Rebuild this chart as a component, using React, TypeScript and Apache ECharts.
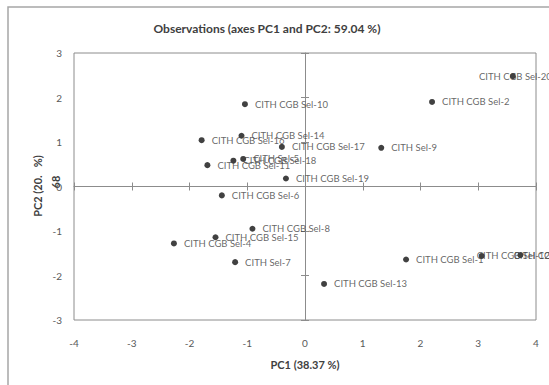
import React, { useEffect, useRef } from "react";
import * as echarts from "echarts";

const names = [
  "CITH CGB Sel-1", "CITH CGB Sel-2", "CITH CGB Sel-3", "CITH CGB Sel-4", "CITH Sel-5",
  "CITH CGB Sel-6", "CITH Sel-7", "CITH CGB Sel-8", "CITH Sel-9", "CITH CGB Sel-10",
  "CITH CGB Sel-11", "CITH CGB Sel-12", "CITH CGB Sel-13", "CITH CGB Sel-14", "CITH CGB Sel-15",
  "CITH CGB Sel-16", "CITH CGB Sel-17", "CITH CGB Sel-18", "CITH CGB Sel-19", "CITH CGB Sel-20",
];
const pc1 = [1.75, 2.2, 3.73, -2.27, -1.07, -1.44, -1.21, -0.91, 1.32, -1.04, -1.69, 3.06, 0.33, -1.1, -1.55, -1.79, -0.4, -1.24, -0.33, 3.6];
const pc2 = [-1.64, 1.9, -1.54, -1.28, 0.62, -0.2, -1.7, -0.95, 0.87, 1.85, 0.48, -1.56, -2.19, 1.14, -1.14, 1.04, 0.89, 0.58, 0.18, 2.48];
const xTicks = { min: -4, max: 4, step: 1 };
const yTicks = { min: -3, max: 3, step: 1 };

const titleText = "Observations (axes PC1 and PC2: 59.04 %)";
const xName = "PC1 (38.37 %)";
const yNameMain = "PC2 (20.   %)";
const yNameFrag = "68";

// label start (px, relative to symbol's left edge) for labels moved from the default spot
const labelShift: Record<string, number> = {
  "CITH CGB Sel-20": -31,
  "CITH CGB Sel-12": -2,
  "CITH CGB Sel-3": -4,
};

const FONT = "Lato, 'Open Sans', sans-serif";

export default function App() {
  const ref = useRef<HTMLDivElement>(null);
  useEffect(() => {
    if (!ref.current) return;
    const chart = echarts.init(ref.current, undefined, { renderer: "svg" });
    const data = names.map((n, i) => {
      const item: any = { name: n, value: [pc1[i], pc2[i]] };
      if (labelShift[n] !== undefined) {
        item.label = { position: [labelShift[n], "50%"], align: "left", verticalAlign: "middle" };
      }
      return item;
    });
    const axisCol = "#8c8c8c";
    const baseX = { type: "value", min: xTicks.min, max: xTicks.max, interval: xTicks.step, splitLine: { show: false } };
    const baseY = { type: "value", min: yTicks.min, max: yTicks.max, interval: yTicks.step, splitLine: { show: false } };
    chart.setOption({
      animation: false,
      textStyle: { fontFamily: FONT },
      graphic: [
        { type: "rect", shape: { x: 8, y: 7, width: 700, height: 500 }, style: { fill: "none", stroke: "#a6a6a6", lineWidth: 1.5 }, silent: true },
        { type: "text", x: 267, y: 28, style: { text: titleText, fontSize: 12, fontWeight: "bold", fill: "#404040", fontFamily: FONT, textAlign: "center", textVerticalAlign: "middle" } },
        { type: "text", x: 37, y: 186, rotation: Math.PI / 2, style: { text: yNameMain, fontSize: 11, fontWeight: "bold", fill: "#404040", fontFamily: FONT, textAlign: "center", textVerticalAlign: "middle" } },
        { type: "text", x: 55, y: 182, rotation: Math.PI / 2, style: { text: yNameFrag, fontSize: 11, fontWeight: "bold", fill: "#404040", fontFamily: FONT, textAlign: "center", textVerticalAlign: "middle" } },
      ],
      grid: { left: 74, right: 13, top: 53, bottom: 65, show: true, borderColor: axisCol, borderWidth: 1, backgroundColor: "transparent" },
      xAxis: [
        {
          ...baseX, position: "bottom",
          axisLine: { show: false, onZero: false }, axisTick: { show: false },
          axisLabel: { color: "#595959", fontSize: 10, margin: 18 },
          name: xName, nameLocation: "middle", nameGap: 39,
          nameTextStyle: { fontSize: 11, fontWeight: "bold", color: "#404040" },
        },
        {
          ...baseX,
          axisLine: { show: true, onZero: true, onZeroAxisIndex: 0, lineStyle: { color: axisCol, width: 1 } },
          axisTick: { show: true, length: 4, inside: false, lineStyle: { color: axisCol } },
          axisLabel: { show: false },
        },
        {
          ...baseX,
          axisLine: { show: false, onZero: true, onZeroAxisIndex: 0 },
          axisTick: { show: true, length: 4, inside: true, lineStyle: { color: axisCol } },
          axisLabel: { show: false },
        },
      ],
      yAxis: [
        {
          ...baseY, position: "left",
          axisLine: { show: false, onZero: false }, axisTick: { show: false },
          axisLabel: { color: "#595959", fontSize: 10, margin: 12 },
        },
        {
          ...baseY,
          axisLine: { show: true, onZero: true, onZeroAxisIndex: 0, lineStyle: { color: axisCol, width: 1 } },
          axisTick: { show: true, length: 4, inside: false, lineStyle: { color: axisCol } },
          axisLabel: { show: false },
        },
        {
          ...baseY,
          axisLine: { show: false, onZero: true, onZeroAxisIndex: 0 },
          axisTick: { show: true, length: 4, inside: true, lineStyle: { color: axisCol } },
          axisLabel: { show: false },
        },
      ],
      series: [
        {
          type: "scatter",
          xAxisIndex: 0,
          yAxisIndex: 0,
          symbolSize: 6,
          itemStyle: { color: "#111" },
          data,
          clip: false,
          z: 3,
          label: {
            show: true, position: "right", distance: 7,
            formatter: "{b}", fontSize: 9.5, color: "#404040", fontFamily: FONT,
          },
          labelLayout: { hideOverlap: false },
        },
      ],
    });
    return () => chart.dispose();
  }, []);
  return <div ref={ref} style={{ position: "fixed", left: 0, top: 0, width: 549, height: 385, background: "#fff" }} />;
}
